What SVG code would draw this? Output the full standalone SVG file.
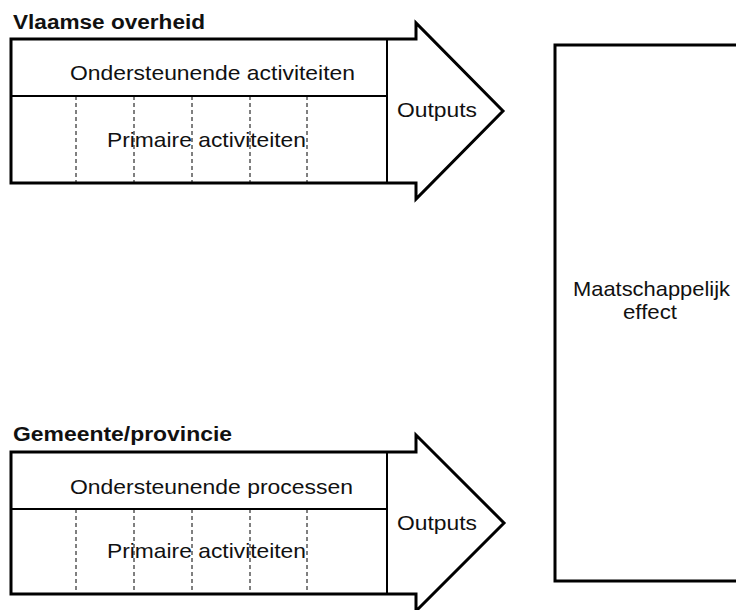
<svg xmlns="http://www.w3.org/2000/svg" width="736" height="610" viewBox="0 0 736 610">
<style>
text{font-family:"Liberation Sans",Arial,sans-serif;fill:#111}
.t{font-size:20px;font-weight:bold}
.l{font-size:21px}
.outline{fill:#fff;stroke:#000;stroke-width:3;stroke-linejoin:miter}
.inner{fill:none;stroke:#000;stroke-width:2}
.dash{fill:none;stroke:#000;stroke-width:1;stroke-dasharray:4 3}
</style>
<rect width="736" height="610" fill="#fff"/>
<g id="vlaamse-overheid">
<text class="t" x="13" y="29" textLength="192" lengthAdjust="spacingAndGlyphs">Vlaamse overheid</text>
<path class="outline" d="M11 39 H416 V23 L503 111 L416 199 V183 H11 Z"/>
<line class="inner" x1="11" y1="96" x2="387" y2="96"/>
<line class="inner" x1="387" y1="39" x2="387" y2="183"/>
<g class="dash">
<line x1="76" y1="96" x2="76" y2="183"/><line x1="134" y1="96" x2="134" y2="183"/><line x1="192" y1="96" x2="192" y2="183"/><line x1="250" y1="96" x2="250" y2="183"/><line x1="307" y1="96" x2="307" y2="183"/>
</g>
<text class="l" x="70" y="80" textLength="285" lengthAdjust="spacingAndGlyphs">Ondersteunende activiteiten</text>
<text class="l" x="107" y="147" textLength="199" lengthAdjust="spacingAndGlyphs">Primaire activiteiten</text>
<text class="l" x="397" y="117" textLength="80" lengthAdjust="spacingAndGlyphs">Outputs</text>
</g>
<g id="gemeente-provincie">
<text class="t" x="13" y="441" textLength="219" lengthAdjust="spacingAndGlyphs">Gemeente/provincie</text>
<path class="outline" d="M11 452 H416 V435 L504 523 L416 611 V594 H11 Z"/>
<line class="inner" x1="11" y1="509" x2="387" y2="509"/>
<line class="inner" x1="387" y1="452" x2="387" y2="594"/>
<g class="dash">
<line x1="76" y1="509" x2="76" y2="594"/><line x1="134" y1="509" x2="134" y2="594"/><line x1="192" y1="509" x2="192" y2="594"/><line x1="250" y1="509" x2="250" y2="594"/><line x1="307" y1="509" x2="307" y2="594"/>
</g>
<text class="l" x="70" y="494" textLength="283" lengthAdjust="spacingAndGlyphs">Ondersteunende processen</text>
<text class="l" x="107" y="558" textLength="199" lengthAdjust="spacingAndGlyphs">Primaire activiteiten</text>
<text class="l" x="397" y="530" textLength="80" lengthAdjust="spacingAndGlyphs">Outputs</text>
</g>
<g id="maatschappelijk-effect">
<path class="outline" d="M740 45 H555 V581 H740"/>
<text class="l" x="573" y="296" textLength="157" lengthAdjust="spacingAndGlyphs">Maatschappelijk</text>
<text class="l" x="623" y="319" textLength="54" lengthAdjust="spacingAndGlyphs">effect</text>
</g>
<g id="connectors"/>
</svg>
